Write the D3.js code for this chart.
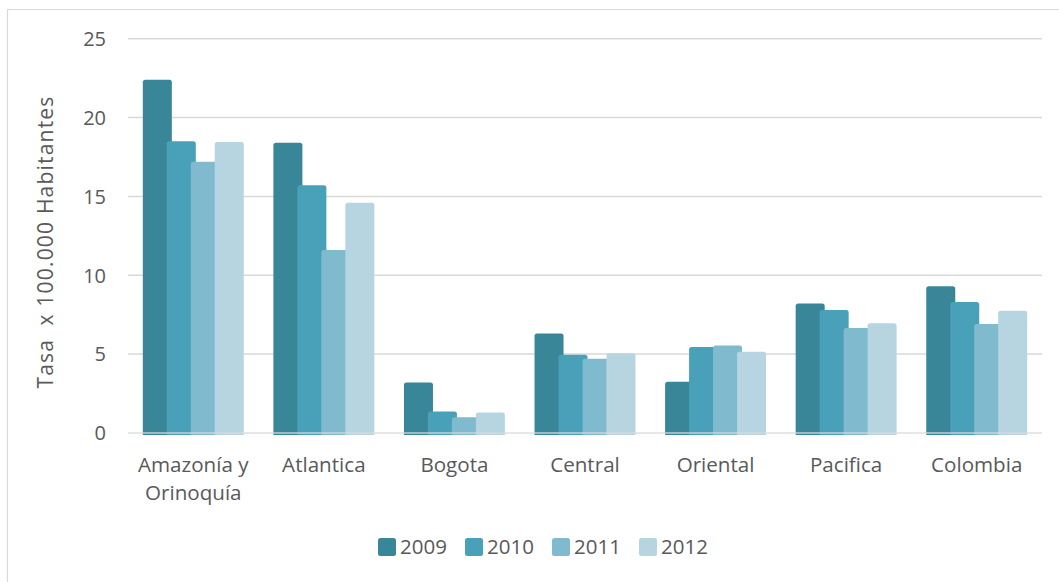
<!DOCTYPE html>
<html>
<head>
<meta charset="utf-8">
<script src="https://cdn.jsdelivr.net/npm/d3@7"></script>
<style>
  html, body { margin: 0; padding: 0; background: #fff; }
  svg { display: block; font-family: "Open Sans", "Noto Sans", sans-serif; }
</style>
</head>
<body>
<svg id="chart" width="1059" height="582"></svg>
<script>
// Regions (category labels may span two lines)
const categories = ["Amazonía y Orinoquía", "Atlantica", "Bogota", "Central", "Oriental", "Pacifica", "Colombia"];
const categoryLines = [["Amazonía y", "Orinoquía"], ["Atlantica"], ["Bogota"], ["Central"], ["Oriental"], ["Pacifica"], ["Colombia"]];
const years = ["2009", "2010", "2011", "2012"];

// Rate per 100.000 inhabitants, one array per year, in category order
const values2009 = [22.4, 18.4, 3.2, 6.3, 3.25, 8.2, 9.3];
const values2010 = [18.5, 15.7, 1.35, 4.95, 5.45, 7.8, 8.3];
const values2011 = [17.2, 11.6, 1.0, 4.7, 5.55, 6.65, 6.9];
const values2012 = [18.45, 14.6, 1.3, 5.05, 5.15, 6.95, 7.75];
const yTicks = [0, 5, 10, 15, 20, 25];

const seriesValues = [values2009, values2010, values2011, values2012];
const colors = ["#398698", "#48a1b9", "#7fbacf", "#b6d5e0"];

const svg = d3.select("#chart");
const textColor = "#595959";
const gridColor = "#d9d9d9";

// Outer chart frame (top and left edges)
svg.append("line").attr("x1", 7.5).attr("x2", 1059).attr("y1", 9.5).attr("y2", 9.5)
  .attr("stroke", "#d9d9d9").attr("stroke-width", 1.2);
svg.append("line").attr("x1", 7.5).attr("x2", 7.5).attr("y1", 9.5).attr("y2", 582)
  .attr("stroke", "#d9d9d9").attr("stroke-width", 1.2);

const plot = { left: 128, right: 1042, top: 38.7, bottom: 432.9 };

const y = d3.scaleLinear().domain([0, 25]).range([plot.bottom, plot.top]);
const x0 = d3.scaleBand().domain(categories).range([plot.left, plot.right])
  .paddingInner(0.227).paddingOuter(0.1135);
const bw = x0.bandwidth();
const x1 = d3.scaleBand().domain(years).range([0, bw * 4 / 4.21]).padding(0);
const barW = x1.step() * 1.21;

// Gridlines (except baseline, drawn over the bars)
const grid = svg.append("g");
grid.selectAll("line").data(yTicks.filter(d => d !== 0)).join("line")
  .attr("x1", plot.left).attr("x2", plot.right)
  .attr("y1", d => y(d)).attr("y2", d => y(d))
  .attr("stroke", gridColor).attr("stroke-width", 1.5);

// Y tick labels
const yAxis = d3.axisLeft(y).tickValues(yTicks).tickSize(0).tickPadding(0);
const yg = svg.append("g").attr("transform", `translate(${plot.left - 22},0)`).call(yAxis);
yg.select(".domain").remove();
yg.selectAll("text").attr("fill", textColor).attr("font-size", 20)
  .attr("font-family", "'Open Sans', sans-serif").attr("dy", "0.34em");

// Rounded-top bar path
function barPath(x, yTop, w, yBot, r) {
  r = Math.min(r, (yBot - yTop) / 2, w / 2);
  return `M${x},${yBot}V${yTop + r}Q${x},${yTop} ${x + r},${yTop}H${x + w - r}Q${x + w},${yTop} ${x + w},${yTop + r}V${yBot}Z`;
}

const bars = svg.append("g");
years.forEach((yr, si) => {
  bars.append("g").selectAll("path")
    .data(categories.map((c, ci) => ({ c, v: seriesValues[si][ci] })))
    .join("path")
    .attr("d", d => barPath(x0(d.c) + x1(yr), y(d.v), barW, y(0) + 2, 2.5))
    .attr("fill", colors[si]);
});

// Baseline gridline over the bars
svg.append("line").attr("x1", plot.left).attr("x2", plot.right)
  .attr("y1", y(0)).attr("y2", y(0))
  .attr("stroke", gridColor).attr("stroke-width", 1.5).attr("stroke-opacity", 0.85);

// Category labels
const xl = svg.append("g");
categories.forEach((c, i) => {
  const t = xl.append("text")
    .attr("x", x0(c) + bw / 2).attr("y", 471.5)
    .attr("text-anchor", "middle").attr("fill", textColor).attr("font-size", 20.6);
  categoryLines[i].forEach((line, li) => {
    t.append("tspan").attr("x", x0(c) + bw / 2).attr("dy", li === 0 ? 0 : 28.5).text(line);
  });
});

// Y axis title
svg.append("text")
  .attr("transform", `translate(53,242) rotate(-90)`)
  .attr("text-anchor", "middle").attr("fill", textColor).attr("font-size", 21)
  .attr("letter-spacing", 1.2)
  .style("white-space", "pre")
  .text("Tasa  x 100.000 Habitantes");

// Legend
const legend = svg.append("g");
const legendX = d3.scalePoint().domain(years).range([378, 639]);
years.forEach((yr, i) => {
  const g = legend.append("g").attr("transform", `translate(${legendX(yr)},538)`);
  g.append("rect").attr("width", 18).attr("height", 18).attr("rx", 2.5).attr("fill", colors[i]);
  g.append("text").attr("x", 22).attr("y", 15.8).attr("fill", textColor)
    .attr("font-size", 20.5).text(yr);
});
</script>
</body>
</html>
